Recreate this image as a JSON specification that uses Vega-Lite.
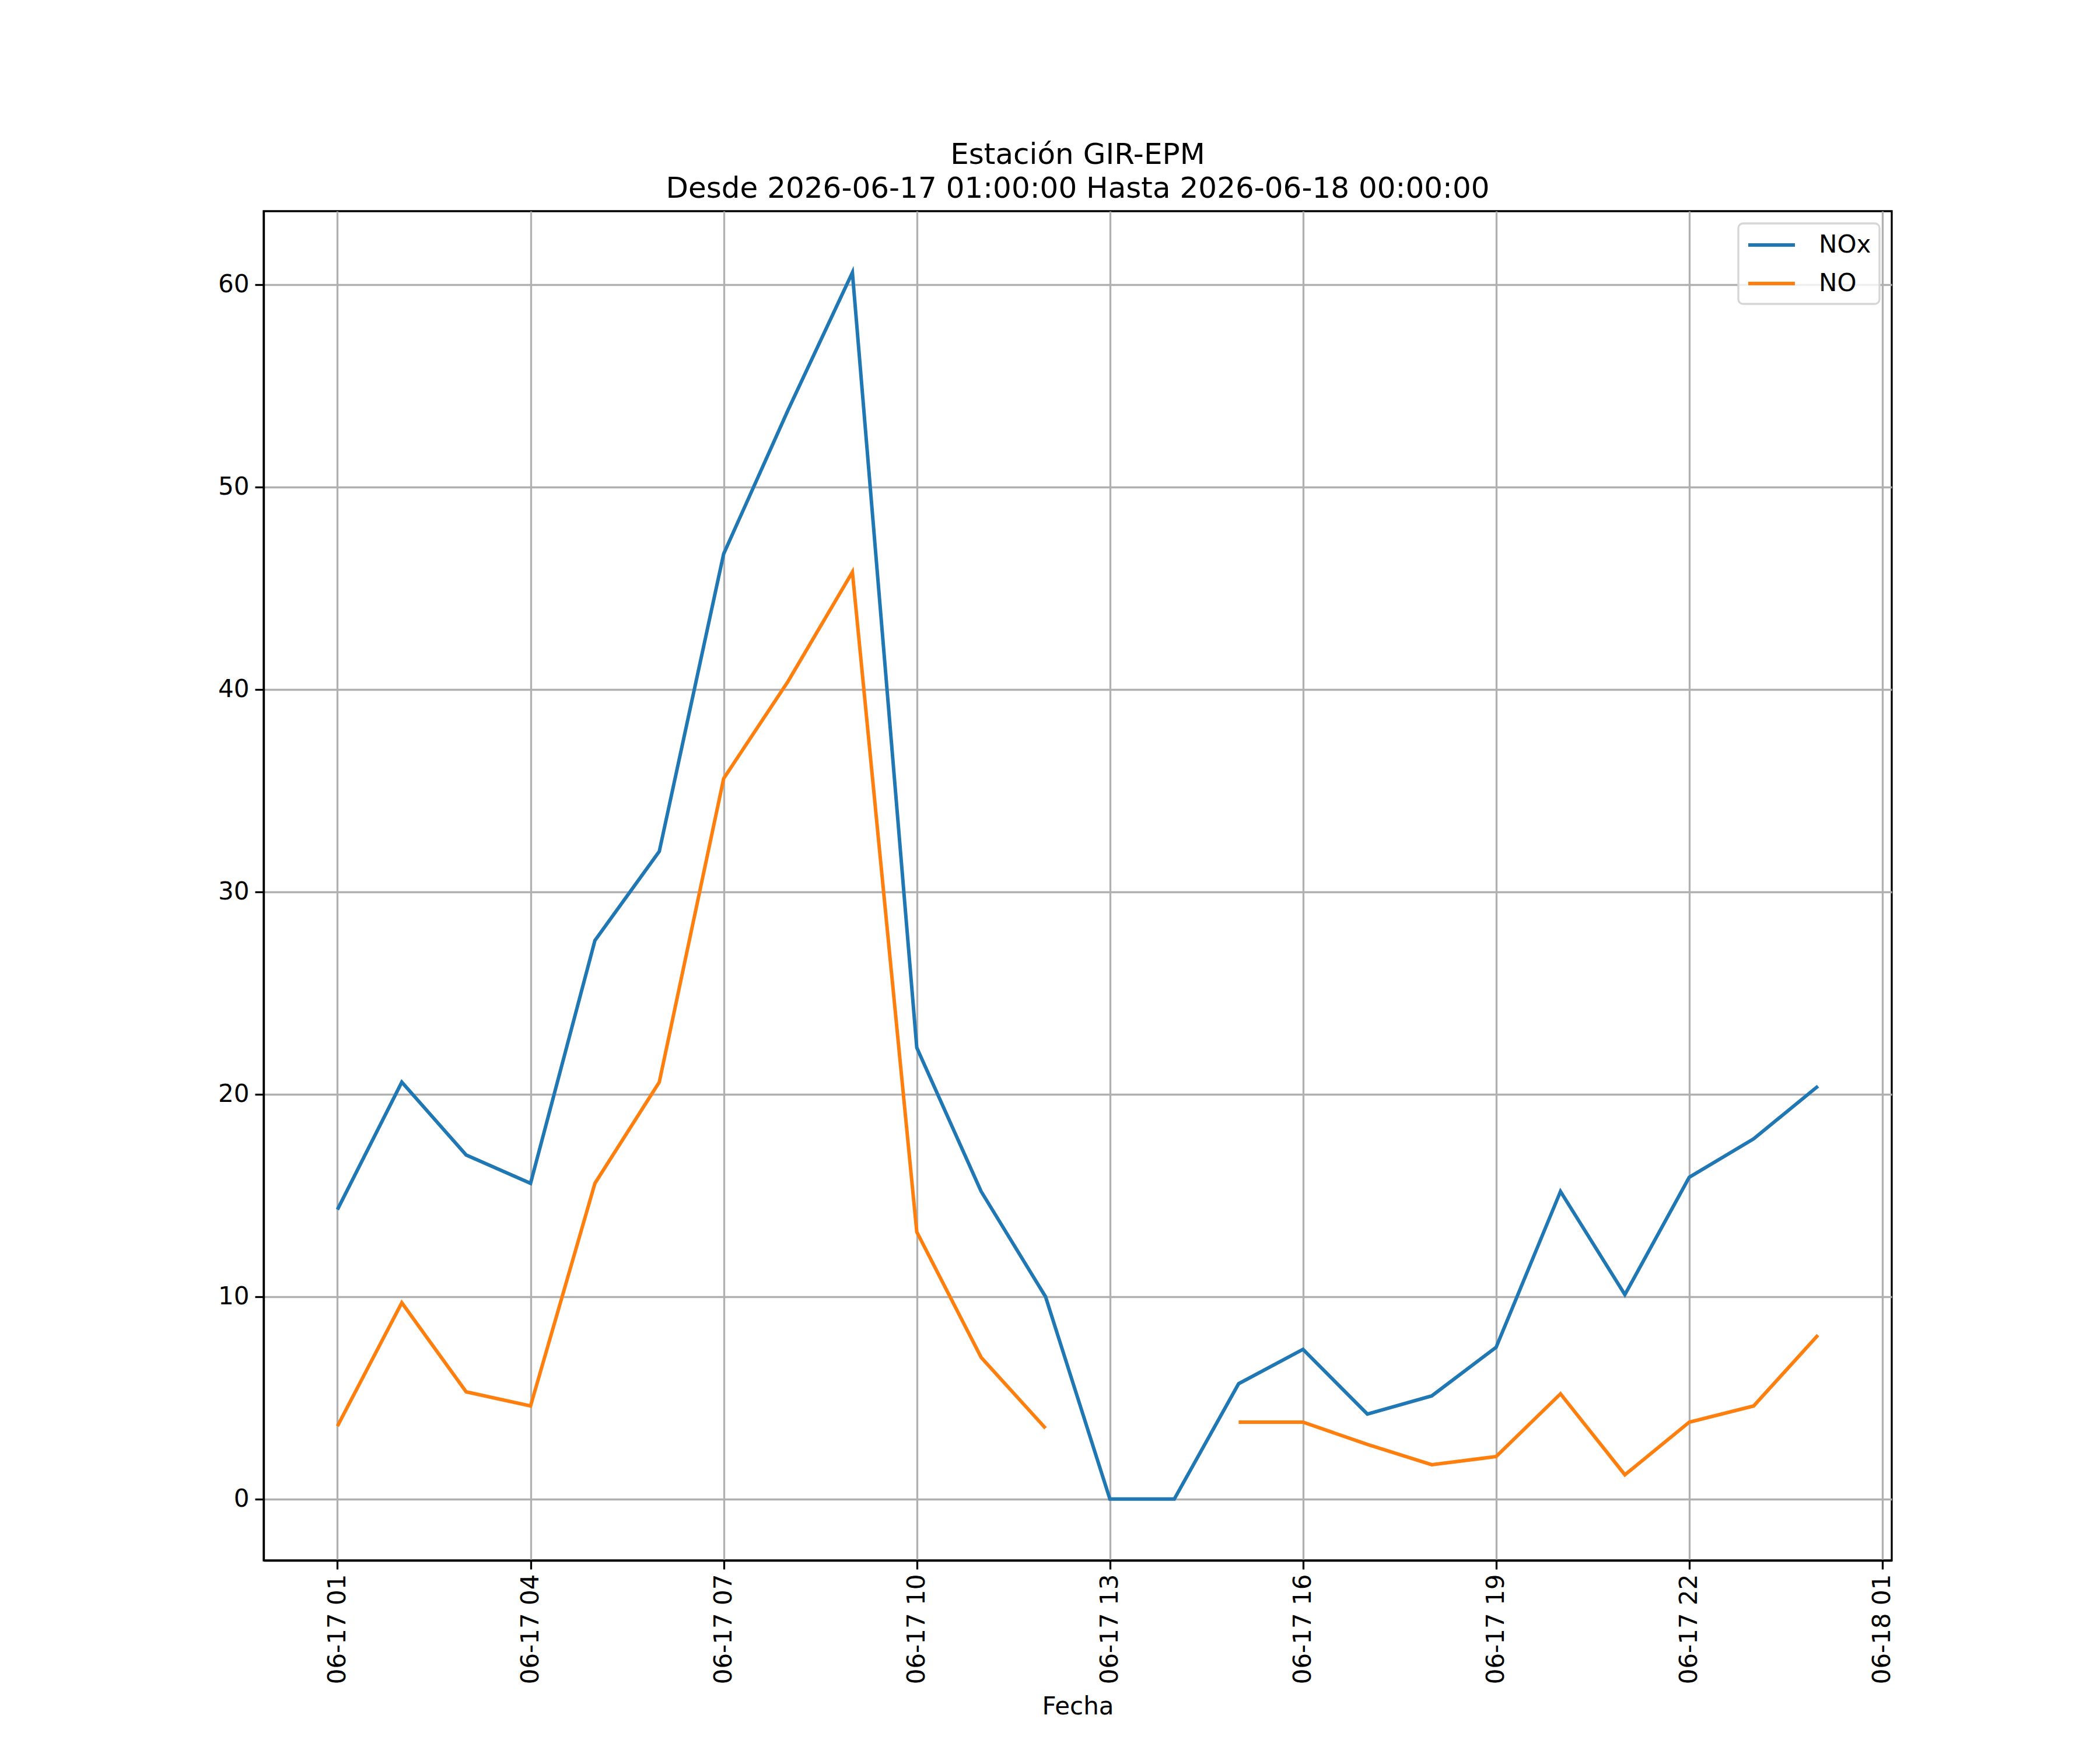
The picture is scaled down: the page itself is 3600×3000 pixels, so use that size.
{
  "$schema": "https://vega.github.io/schema/vega-lite/v6.json",
  "autosize": {"type": "none"},
  "width": 2791,
  "height": 2313,
  "padding": {"left": 452, "top": 362, "right": 357, "bottom": 325},
  "background": "white",
  "title": {
    "text": ["Estación GIR-EPM", "Desde 2026-06-17 01:00:00 Hasta 2026-06-18 00:00:00"],
    "font": "DejaVu Sans",
    "fontSize": 50,
    "fontWeight": "normal",
    "color": "black",
    "anchor": "middle",
    "lineHeight": 58,
    "offset": 13
  },
  "data": {
    "values": [
      {"fecha": "2026-06-17T01:00:00", "variable": "NOx", "valor": 14.3},
      {"fecha": "2026-06-17T02:00:00", "variable": "NOx", "valor": 20.6},
      {"fecha": "2026-06-17T03:00:00", "variable": "NOx", "valor": 17.0},
      {"fecha": "2026-06-17T04:00:00", "variable": "NOx", "valor": 15.6},
      {"fecha": "2026-06-17T05:00:00", "variable": "NOx", "valor": 27.6},
      {"fecha": "2026-06-17T06:00:00", "variable": "NOx", "valor": 32.0},
      {"fecha": "2026-06-17T07:00:00", "variable": "NOx", "valor": 46.7},
      {"fecha": "2026-06-17T08:00:00", "variable": "NOx", "valor": 53.8},
      {"fecha": "2026-06-17T09:00:00", "variable": "NOx", "valor": 60.6},
      {"fecha": "2026-06-17T10:00:00", "variable": "NOx", "valor": 22.3},
      {"fecha": "2026-06-17T11:00:00", "variable": "NOx", "valor": 15.2},
      {"fecha": "2026-06-17T12:00:00", "variable": "NOx", "valor": 10.0},
      {"fecha": "2026-06-17T13:00:00", "variable": "NOx", "valor": 0.0},
      {"fecha": "2026-06-17T14:00:00", "variable": "NOx", "valor": 0.0},
      {"fecha": "2026-06-17T15:00:00", "variable": "NOx", "valor": 5.7},
      {"fecha": "2026-06-17T16:00:00", "variable": "NOx", "valor": 7.4},
      {"fecha": "2026-06-17T17:00:00", "variable": "NOx", "valor": 4.2},
      {"fecha": "2026-06-17T18:00:00", "variable": "NOx", "valor": 5.1},
      {"fecha": "2026-06-17T19:00:00", "variable": "NOx", "valor": 7.5},
      {"fecha": "2026-06-17T20:00:00", "variable": "NOx", "valor": 15.2},
      {"fecha": "2026-06-17T21:00:00", "variable": "NOx", "valor": 10.1},
      {"fecha": "2026-06-17T22:00:00", "variable": "NOx", "valor": 15.9},
      {"fecha": "2026-06-17T23:00:00", "variable": "NOx", "valor": 17.8},
      {"fecha": "2026-06-18T00:00:00", "variable": "NOx", "valor": 20.4},
      {"fecha": "2026-06-17T01:00:00", "variable": "NO", "valor": 3.6},
      {"fecha": "2026-06-17T02:00:00", "variable": "NO", "valor": 9.7},
      {"fecha": "2026-06-17T03:00:00", "variable": "NO", "valor": 5.3},
      {"fecha": "2026-06-17T04:00:00", "variable": "NO", "valor": 4.6},
      {"fecha": "2026-06-17T05:00:00", "variable": "NO", "valor": 15.6},
      {"fecha": "2026-06-17T06:00:00", "variable": "NO", "valor": 20.6},
      {"fecha": "2026-06-17T07:00:00", "variable": "NO", "valor": 35.6},
      {"fecha": "2026-06-17T08:00:00", "variable": "NO", "valor": 40.4},
      {"fecha": "2026-06-17T09:00:00", "variable": "NO", "valor": 45.8},
      {"fecha": "2026-06-17T10:00:00", "variable": "NO", "valor": 13.2},
      {"fecha": "2026-06-17T11:00:00", "variable": "NO", "valor": 7.0},
      {"fecha": "2026-06-17T12:00:00", "variable": "NO", "valor": 3.5},
      {"fecha": "2026-06-17T13:00:00", "variable": "NO", "valor": null},
      {"fecha": "2026-06-17T14:00:00", "variable": "NO", "valor": null},
      {"fecha": "2026-06-17T15:00:00", "variable": "NO", "valor": 3.8},
      {"fecha": "2026-06-17T16:00:00", "variable": "NO", "valor": 3.8},
      {"fecha": "2026-06-17T17:00:00", "variable": "NO", "valor": 2.7},
      {"fecha": "2026-06-17T18:00:00", "variable": "NO", "valor": 1.7},
      {"fecha": "2026-06-17T19:00:00", "variable": "NO", "valor": 2.1},
      {"fecha": "2026-06-17T20:00:00", "variable": "NO", "valor": 5.2},
      {"fecha": "2026-06-17T21:00:00", "variable": "NO", "valor": 1.2},
      {"fecha": "2026-06-17T22:00:00", "variable": "NO", "valor": 3.8},
      {"fecha": "2026-06-17T23:00:00", "variable": "NO", "valor": 4.6},
      {"fecha": "2026-06-18T00:00:00", "variable": "NO", "valor": 8.1}
    ]
  },
  "mark": {"type": "line", "strokeWidth": 6, "invalid": "break-paths-filter-domains"},
  "encoding": {
    "x": {
      "field": "fecha",
      "type": "temporal",
      "title": "Fecha",
      "scale": {
        "domain": [
          {"year": 2026, "month": 6, "date": 16, "hours": 23, "minutes": 51, "seconds": 15},
          {"year": 2026, "month": 6, "date": 18, "hours": 1, "minutes": 8, "seconds": 45}
        ],
        "nice": false
      },
      "axis": {
        "values": [
          {"year": 2026, "month": 6, "date": 17, "hours": 1},
          {"year": 2026, "month": 6, "date": 17, "hours": 4},
          {"year": 2026, "month": 6, "date": 17, "hours": 7},
          {"year": 2026, "month": 6, "date": 17, "hours": 10},
          {"year": 2026, "month": 6, "date": 17, "hours": 13},
          {"year": 2026, "month": 6, "date": 17, "hours": 16},
          {"year": 2026, "month": 6, "date": 17, "hours": 19},
          {"year": 2026, "month": 6, "date": 17, "hours": 22},
          {"year": 2026, "month": 6, "date": 18, "hours": 1}
        ],
        "format": "%m-%d %H",
        "labelAngle": 270,
        "labelAlign": "right",
        "labelBaseline": "middle",
        "labelPadding": 8,
        "labelLimit": 0,
        "titlePadding": 30,
        "labelFlush": false,
        "labelOverlap": false
      }
    },
    "y": {
      "field": "valor",
      "type": "quantitative",
      "title": null,
      "scale": {"domain": [-3.03, 63.63], "nice": false, "zero": false},
      "axis": {"values": [0, 10, 20, 30, 40, 50, 60], "labelPadding": 10}
    },
    "color": {
      "field": "variable",
      "type": "nominal",
      "title": null,
      "scale": {"domain": ["NOx", "NO"], "range": ["#1f77b4", "#ff7f0e"]},
      "legend": {
        "orient": "top-right",
        "offset": 21,
        "symbolType": "M-1,0L3,0",
        "symbolSize": 1600,
        "symbolStrokeWidth": 6,
        "symbolFillColor": "transparent",
        "labelOffset": 78,
        "rowPadding": 22,
        "padding": 14,
        "fillColor": "rgba(255,255,255,0.8)",
        "strokeColor": "#d6d6d6",
        "cornerRadius": 8
      }
    }
  },
  "config": {
    "font": "DejaVu Sans",
    "view": {"stroke": "black", "strokeWidth": 3.3},
    "axis": {
      "labelFont": "DejaVu Sans",
      "labelFontSize": 42,
      "labelColor": "black",
      "titleFont": "DejaVu Sans",
      "titleFontSize": 42,
      "titleFontWeight": "normal",
      "titleColor": "black",
      "domainColor": "black",
      "domainWidth": 3.3,
      "tickColor": "black",
      "tickWidth": 3.3,
      "tickSize": 15,
      "grid": true,
      "gridColor": "#b0b0b0",
      "gridWidth": 3.3
    },
    "legend": {
      "labelFont": "DejaVu Sans",
      "labelFontSize": 42,
      "labelColor": "black",
      "strokeWidth": 3.3
    }
  }
}
